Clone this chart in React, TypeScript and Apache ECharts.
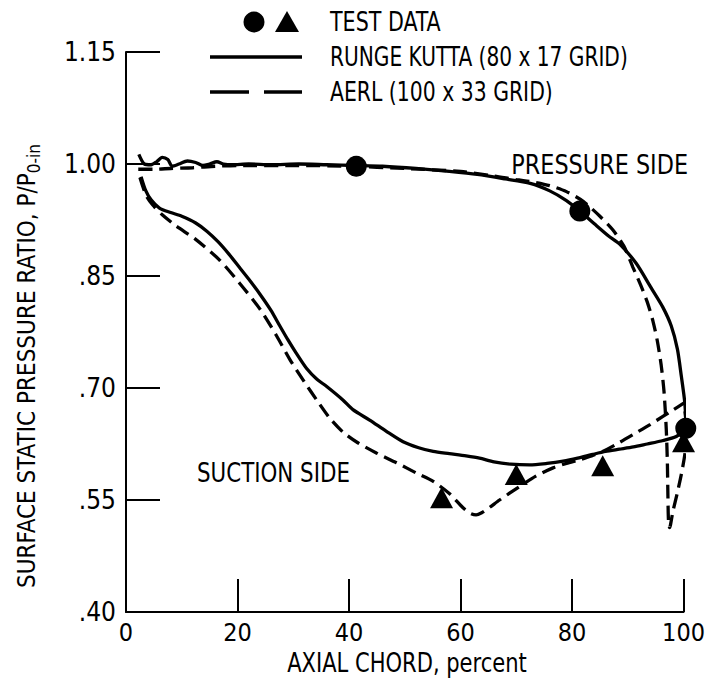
import React, { useEffect, useRef } from "react";
import * as echarts from "echarts";

const FONT = "'Liberation Sans Narrow', 'DejaVu Sans Condensed', 'DejaVu Sans', 'Noto Sans', sans-serif";

// x ticks / y ticks
const xTicks = [0, 20, 40, 60, 80, 100];
const yTickLabels: Record<string, string> = {
  "0.40": ".40", "0.55": ".55", "0.70": ".70", "0.85": ".85", "1.00": "1.00", "1.15": "1.15",
};

// Test data: circles = pressure side, triangles = suction side
const testCircles: [number, number][] = [
  [41.3, 0.997], [81.4, 0.937], [100.4, 0.646],
];
const testTriangles: [number, number][] = [
  [56.6, 0.553], [70.0, 0.584], [85.5, 0.596], [100.0, 0.628],
];

// Runge Kutta (80 x 17 grid) – solid
const rkPressure: [number, number][] = [
  [2.3, 1.013], [3.3, 1.0], [4.5, 0.999], [5.5, 1.003], [6.5, 1.009], [7.5, 1.006], [8.3, 0.997],
  [9.5, 1.0], [11, 1.004], [12.5, 1.002], [13.8, 0.998], [15, 1.0], [16.3, 1.003], [17.5, 1.0],
  [19, 0.999], [22, 1.0], [26, 0.999], [31, 1.0], [36, 0.999], [41.3, 0.998], [46, 0.997],
  [52, 0.994], [58, 0.99], [63, 0.986], [68, 0.98], [72.5, 0.974], [76, 0.964], [79, 0.951],
  [81.4, 0.937], [84, 0.92], [86.5, 0.904], [88.5, 0.893], [91.5, 0.867], [94.2, 0.834],
  [96.3, 0.808], [97.8, 0.783], [98.9, 0.752], [99.6, 0.716], [100.2, 0.682], [100.5, 0.647],
];
const rkSuction: [number, number][] = [
  [2.7, 0.983], [3.5, 0.965], [4.5, 0.952], [6, 0.941], [8, 0.935], [10, 0.93], [12.5, 0.921],
  [14.5, 0.91], [16.5, 0.896], [18.5, 0.879], [20.3, 0.862], [22, 0.846], [24, 0.826], [26, 0.804],
  [27.6, 0.783], [29, 0.765], [30.5, 0.747], [32.4, 0.726], [34.2, 0.712], [36, 0.702],
  [38.9, 0.684], [40.7, 0.671], [43.7, 0.657], [46.7, 0.642], [49.7, 0.628], [52.5, 0.62],
  [55.1, 0.615], [58, 0.612], [61, 0.609], [63.4, 0.606], [66, 0.601], [69, 0.598], [72.4, 0.597],
  [75.5, 0.599], [78.4, 0.602], [81, 0.606], [83.7, 0.611], [86, 0.615], [88.5, 0.618], [91, 0.621],
  [93.5, 0.625], [96, 0.629], [98.7, 0.635], [100.5, 0.647],
];

// AERL (100 x 33 grid) – dashed
const aerlPressure: [number, number][] = [
  [2.2, 0.993], [5, 0.993], [8, 0.994], [12, 0.995], [16, 0.997], [20, 0.998], [30, 0.998],
  [40, 0.997], [50, 0.994], [60, 0.99], [66, 0.984], [70, 0.979], [73, 0.976], [76, 0.971],
  [79, 0.963], [82, 0.95], [85, 0.93], [87.3, 0.912], [89.3, 0.89], [90.9, 0.862], [92.3, 0.838],
  [93.5, 0.815], [94.5, 0.79], [95.3, 0.763], [96, 0.73], [96.5, 0.695], [96.9, 0.645],
  [97.1, 0.6], [97.2, 0.555], [97.3, 0.522], [97.5, 0.513], [98.1, 0.535], [98.9, 0.56],
  [99.7, 0.588], [100.3, 0.615], [100.5, 0.645], [100.1, 0.68],
];
const aerlSuction: [number, number][] = [
  [2.5, 0.982], [3.6, 0.958], [4.8, 0.945], [6.5, 0.932], [9, 0.917], [12.5, 0.899], [16.7, 0.872],
  [20.3, 0.841], [24, 0.806], [27, 0.77], [29.4, 0.738], [32, 0.708], [34.2, 0.684], [36.5, 0.66],
  [38.9, 0.641], [41.5, 0.627], [44.9, 0.613], [48.5, 0.6], [52.1, 0.586], [55.1, 0.575],
  [58.1, 0.558], [60.4, 0.54], [61.8, 0.532], [62.8, 0.53], [63.8, 0.533], [65.2, 0.54],
  [67, 0.55], [70.6, 0.568], [73.5, 0.582], [76.6, 0.593], [79, 0.599], [81.4, 0.604],
  [83.5, 0.609], [85.5, 0.615], [88.5, 0.627], [91.5, 0.64], [94, 0.651], [96.3, 0.662],
  [98.2, 0.671], [100.1, 0.68],
];

const legendLabels = ["TEST DATA", "RUNGE KUTTA (80 x 17 GRID)", "AERL (100 x 33 GRID)"];
const sideLabels = ["PRESSURE SIDE", "SUCTION SIDE"];
const xAxisTitle = "AXIAL CHORD, percent";
const yAxisTitle = "SURFACE STATIC PRESSURE RATIO, P/P";
const yAxisTitleSub = "0-in";

export default function App() {
  const ref = useRef<HTMLDivElement>(null);
  useEffect(() => {
    if (!ref.current) return;
    const chart = echarts.init(ref.current, undefined, { renderer: "svg" });
    const lineBase = (data: [number, number][], dashed: boolean) => ({
      type: "line" as const,
      data,
      showSymbol: false,
      symbol: "none",
      smooth: 0.25,
      clip: false,
      silent: true,
      lineStyle: {
        color: "#000",
        width: 3.3,
        type: dashed ? [14, 7] : "solid",
        cap: "butt",
      },
      z: 2,
    });
    const txt = (text: string, x: number, y: number, align: string, size = 27, sx = 0.85) => ({
      type: "text",
      x,
      y,
      scaleX: sx,
      silent: true,
      style: {
        text,
        fill: "#000",
        fontSize: size,
        fontFamily: FONT,
        textAlign: align,
        align,
        textVerticalAlign: "middle",
        verticalAlign: "middle",
      },
    });
    chart.setOption({
      animation: false,
      backgroundColor: "#fff",
      grid: { left: 126, top: 52, right: 24, bottom: 75 },
      xAxis: {
        type: "value",
        min: xTicks[0],
        max: xTicks[xTicks.length - 1],
        interval: 20,
        axisLine: { show: true, onZero: false, lineStyle: { color: "#000", width: 2 } },
        axisTick: { show: true, inside: true, length: 33, lineStyle: { color: "#000", width: 2 } },
        axisLabel: { color: "#000", fontSize: 25, fontFamily: FONT, margin: 8 },
        splitLine: { show: false },
      },
      yAxis: {
        type: "value",
        min: 0.4,
        max: 1.15,
        interval: 0.15,
        axisLine: { show: true, onZero: false, lineStyle: { color: "#000", width: 2 } },
        axisTick: { show: true, inside: true, length: 34, lineStyle: { color: "#000", width: 2 } },
        axisLabel: {
          color: "#000",
          fontSize: 26,
          fontFamily: FONT,
          margin: 10,
          formatter: (v: number) => yTickLabels[v.toFixed(2)] ?? v.toFixed(2),
        },
        splitLine: { show: false },
      },
      series: [
        lineBase(rkPressure, false),
        lineBase(rkSuction, false),
        lineBase(aerlPressure, true),
        lineBase(aerlSuction, true),
        {
          type: "scatter",
          data: testCircles,
          symbol: "circle",
          symbolSize: 21,
          clip: false,
          silent: true,
          itemStyle: { color: "#000", opacity: 1 },
          emphasis: { disabled: true },
          z: 3,
        },
        {
          type: "scatter",
          data: testTriangles,
          symbol: "triangle",
          symbolSize: [23, 21],
          clip: false,
          silent: true,
          itemStyle: { color: "#000", opacity: 1 },
          emphasis: { disabled: true },
          z: 3,
        },
      ],
      graphic: [
        { type: "circle", shape: { cx: 254, cy: 22, r: 10.5 }, style: { fill: "#000" } },
        { type: "polygon", shape: { points: [[287, 11], [275, 32], [299, 32]] }, style: { fill: "#000" } },
        txt(legendLabels[0], 330, 22, "left"),
        { type: "line", shape: { x1: 210, y1: 57, x2: 302, y2: 57 }, style: { stroke: "#000", lineWidth: 3.5 } },
        txt(legendLabels[1], 330, 57, "left", 27, 0.83),
        { type: "line", shape: { x1: 210, y1: 92, x2: 249, y2: 92 }, style: { stroke: "#000", lineWidth: 3.5 } },
        { type: "line", shape: { x1: 264, y1: 92, x2: 302, y2: 92 }, style: { stroke: "#000", lineWidth: 3.5 } },
        txt(legendLabels[2], 330, 92, "left", 27, 0.84),
        txt(sideLabels[0], 688, 165, "right", 27, 0.92),
        txt(sideLabels[1], 197, 472, "left", 27, 0.88),
        txt(xAxisTitle, 407, 663, "center", 26, 0.9),
        {
          type: "text",
          x: 27,
          y: 366,
          rotation: Math.PI / 2,
          silent: true,
          style: {
            text: yAxisTitle + "{s|" + yAxisTitleSub + "}",
            fill: "#000",
            fontSize: 24,
            fontFamily: FONT,
            textAlign: "center",
            align: "center",
            textVerticalAlign: "middle",
            verticalAlign: "middle",
            rich: {
              s: { fontSize: 17, fontFamily: FONT, fill: "#000", verticalAlign: "bottom", padding: [14, 0, 0, 0] },
            },
          },
        },
      ],
    });
    return () => chart.dispose();
  }, []);
  return (
    <div
      ref={ref}
      style={{ position: "fixed", left: 0, top: 0, width: 708, height: 687 }}
    />
  );
}
